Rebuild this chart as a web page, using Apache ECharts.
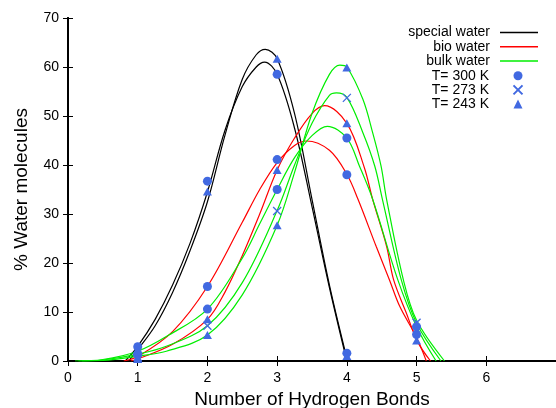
<!DOCTYPE html>
<html>
<head>
<meta charset="utf-8">
<script src="https://cdn.jsdelivr.net/npm/echarts@6/dist/echarts.min.js"></script>
<style>
html,body{margin:0;padding:0;background:#fff;}
#c{width:556px;height:408px;}
</style>
</head>
<body>
<div id="c"></div>
<script>
// ---- data ----
var bonds = [1, 2, 3, 4, 5];
// measured points (% water molecules)
var special300 = [2.9, 36.7, 58.5, 1.6, null];
var special243 = [2.0, 34.6, 61.7, 1.0, null];
var bio300 = [1.2, 15.2, 41.1, 38.0, 5.4];
var bio243 = [0.5, 8.5, 39.0, 48.5, 4.2];
var bulk300 = [1.5, 10.6, 35.0, 45.5, 7.0];
var bulk273 = [0.8, 7.2, 30.6, 53.7, 7.8];
var bulk243 = [0.4, 5.3, 27.7, 59.9, 7.6];

// fitted curves: x positions and y values
var specialFit300X = [0.82, 1, 1.25, 1.5, 1.75, 2, 2.25, 2.5, 2.7, 2.82, 3, 3.25, 3.5, 3.75, 4];
var specialFit300Y = [0, 3, 8.5, 15.5, 24, 34.5, 47, 56, 60, 61, 58.5, 47.5, 31.5, 15, 0];
var specialFit243X = [0.87, 1, 1.25, 1.5, 1.75, 2, 2.25, 2.5, 2.7, 2.83, 3, 3.25, 3.5, 3.75, 4.01];
var specialFit243Y = [0, 2.3, 7.2, 14, 22.5, 32.5, 46, 57.5, 62.5, 63.6, 61.7, 50.5, 33, 15.5, 0];

var bioFit300X = [0.8, 1, 1.5, 2, 2.5, 2.75, 3, 3.25, 3.42, 3.75, 4, 4.16, 4.42, 4.61, 4.76, 5, 5.14];
var bioFit300Y = [0, 0.9, 6, 15.2, 28.3, 35, 40.5, 44, 44.9, 43, 38.1, 33, 23.4, 16.6, 11.1, 4.8, 0];
var bioFit243X = [0.9, 1, 1.5, 2, 2.25, 2.5, 2.75, 3, 3.25, 3.5, 3.68, 4, 4.25, 4.37, 4.57, 4.67, 4.85, 5.02, 5.2];
var bioFit243Y = [0, 0.4, 3.4, 8.5, 14, 21.5, 30, 39, 45.5, 50.5, 52.1, 48.5, 39.5, 33, 23.4, 16.6, 9.9, 3.8, 0];

var bulkFit300X = [0.1, 0.5, 1, 1.41, 2, 2.5, 2.75, 3, 3.25, 3.5, 3.72, 4, 4.18, 4.37, 4.73, 5, 5.28];
var bulkFit300Y = [0, 0.3, 2, 5, 10.6, 21, 28, 35, 41.5, 46, 47.9, 45.5, 39.8, 33, 16.6, 7, 0];
var bulkFit273X = [0.15, 0.5, 1, 1.41, 2, 2.5, 3, 3.25, 3.5, 3.75, 3.85, 4, 4.23, 4.4, 4.51, 4.78, 5, 5.35];
var bulkFit273Y = [0, 0.2, 1.4, 3, 7.2, 16, 30.7, 40, 48.5, 54.2, 54.7, 53.8, 46.6, 39.8, 33, 16.6, 7.7, 0];
var bulkFit243X = [0.2, 0.5, 1, 1.41, 2, 2.5, 3, 3.25, 3.5, 3.75, 3.9, 4, 4.23, 4.37, 4.49, 4.57, 4.81, 5, 5.4];
var bulkFit243Y = [0, 0.1, 1.0, 2, 5.3, 13.5, 27.7, 38.5, 50.5, 58.5, 60.4, 60, 53.4, 46.6, 39.8, 33, 16.6, 8.3, 0];

var xTicks = [0, 1, 2, 3, 4, 5, 6];
var yTicks = [0, 10, 20, 30, 40, 50, 60, 70];
var lineNames = ['special water', 'bio water', 'bulk water'];
var markerNames = ['T= 300 K', 'T= 273 K', 'T= 243 K'];

function pairs(xs, ys) { return xs.map(function (x, i) { return [x, ys[i]]; }); }
function pts() {
  var out = [];
  for (var a = 0; a < arguments.length; a++) {
    var arr = arguments[a];
    bonds.forEach(function (b, i) { if (arr[i] != null) out.push([b, arr[i]]); });
  }
  return out;
}

var BLUE = '#4169e1';
var GREEN = '#00ee00';
var FONT = 'Liberation Sans, Arial, sans-serif';
var CROSS = 'path://M0,0L10,10M10,0L0,10';

function curve(name, data, color) {
  return {
    name: name, type: 'line', data: data, smooth: 0.35, symbol: 'none', showSymbol: false,
    lineStyle: { color: color, width: 1.2 }, itemStyle: { color: color },
    z: 2, silent: true, animation: false
  };
}

var chart = echarts.init(document.getElementById('c'), null, { renderer: 'canvas' });
chart.setOption({
  animation: false,
  backgroundColor: '#fff',
  textStyle: { fontFamily: FONT },
  grid: { left: 68, right: 0, top: 18, bottom: 47, containLabel: false, outerBoundsMode: 'none' },
  legend: [{
    orient: 'vertical', align: 'right', right: 18, top: 25.4, padding: 0,
    itemWidth: 38, itemHeight: 1.5, itemGap: 0, selectedMode: false,
    textStyle: { fontFamily: FONT, fontSize: 14, color: '#000', lineHeight: 14.2, padding: [0, 5, 0, 0] },
    data: lineNames.map(function (n) { return { name: n, icon: 'rect' }; })
  }, {
    orient: 'vertical', align: 'right', right: 32.5, top: 68.6, padding: 0,
    itemWidth: 9, itemHeight: 9, itemGap: 0, selectedMode: false,
    textStyle: { fontFamily: FONT, fontSize: 14, color: '#000', lineHeight: 14.2, padding: [0, 19.5, 0, 0] },
    data: [
      { name: markerNames[0], icon: 'circle' },
      { name: markerNames[1], icon: CROSS },
      { name: markerNames[2], icon: 'triangle' }
    ]
  }],
  xAxis: [{
    type: 'value', min: 0, max: 7, interval: 1,
    name: 'Number of Hydrogen Bonds', nameLocation: 'middle', nameGap: 24,
    nameTextStyle: { fontFamily: FONT, fontSize: 19, color: '#000' },
    axisLine: { show: true, lineStyle: { color: '#000', width: 2 } },
    axisTick: { show: true, inside: true, length: 5, lineStyle: { color: '#000', width: 1 } },
    axisLabel: { show: true, fontFamily: FONT, fontSize: 14, color: '#000', margin: 10, showMaxLabel: false,
      formatter: function (v) { return xTicks.indexOf(v) >= 0 ? String(v) : ''; } },
    splitLine: { show: false }
  }, {
    type: 'value', min: 0, max: 7, interval: 1, position: 'top',
    axisLine: { show: true, lineStyle: { color: '#000', width: 2 } },
    axisTick: { show: true, inside: true, length: 5, lineStyle: { color: '#000', width: 1 } },
    axisLabel: { show: false }, splitLine: { show: false }
  }],
  yAxis: [{
    type: 'value', min: 0, max: 70, interval: 10,
    name: '% Water molecules', nameLocation: 'middle', nameGap: 37,
    nameTextStyle: { fontFamily: FONT, fontSize: 19, color: '#000' },
    axisLine: { show: true, lineStyle: { color: '#000', width: 2 } },
    axisTick: { show: true, inside: true, length: 5, lineStyle: { color: '#000', width: 1 } },
    axisLabel: { fontFamily: FONT, fontSize: 14, color: '#000', margin: 9,
      formatter: function (v) { return yTicks.indexOf(v) >= 0 ? String(v) : ''; } },
    splitLine: { show: false }
  }, {
    type: 'value', min: 0, max: 70, interval: 10, position: 'right',
    axisLine: { show: true, lineStyle: { color: '#000', width: 2 } },
    axisTick: { show: true, inside: true, length: 5, lineStyle: { color: '#000', width: 1 } },
    axisLabel: { show: false }, splitLine: { show: false }
  }],
  series: [
    curve(lineNames[0], pairs(specialFit300X, specialFit300Y), '#000'),
    curve(lineNames[0], pairs(specialFit243X, specialFit243Y), '#000'),
    curve(lineNames[1], pairs(bioFit300X, bioFit300Y), '#ff0000'),
    curve(lineNames[1], pairs(bioFit243X, bioFit243Y), '#ff0000'),
    curve(lineNames[2], pairs(bulkFit300X, bulkFit300Y), GREEN),
    curve(lineNames[2], pairs(bulkFit273X, bulkFit273Y), GREEN),
    curve(lineNames[2], pairs(bulkFit243X, bulkFit243Y), GREEN),
    {
      name: markerNames[0], type: 'scatter', symbol: 'circle', symbolSize: 9,
      itemStyle: { color: BLUE, opacity: 1 }, z: 3,
      data: pts(special300, bio300, bulk300)
    },
    {
      name: markerNames[1], type: 'scatter', symbol: CROSS, symbolSize: 8,
      itemStyle: { color: 'rgba(0,0,0,0)', borderColor: BLUE, borderWidth: 1.3, opacity: 1 }, z: 3,
      data: pts(bulk273)
    },
    {
      name: markerNames[2], type: 'scatter', symbol: 'triangle', symbolSize: [9, 8],
      itemStyle: { color: BLUE, opacity: 1 }, z: 3,
      data: pts(special243, bio243, bulk243)
    }
  ]
});
</script>
</body>
</html>
